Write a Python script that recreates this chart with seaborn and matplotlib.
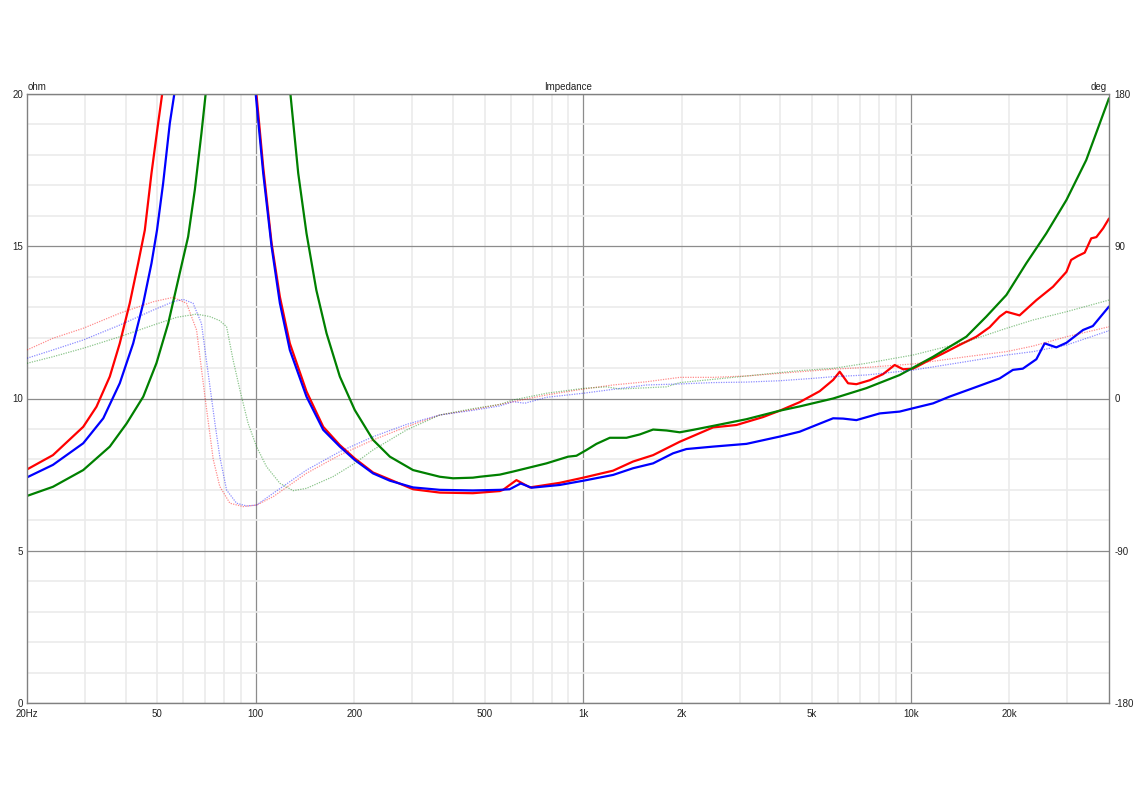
import matplotlib
matplotlib.use('Agg')
import matplotlib.pyplot as plt
import matplotlib.ticker as mticker
import seaborn as sns

# impedance magnitude (ohm) vs frequency (Hz)
red_imp_f = [20, 24, 29.7, 32.6, 35.8, 38.4, 41.2, 43.7, 45.8, 48.0, 50.3, 51.7, 70.8,
             100.4, 105.3, 111.7, 118.4, 127, 142.8, 160.6, 180.5, 200.5, 228, 256.6, 302,
             364.6, 460, 556, 569, 596, 625, 687, 847, 1000, 1233, 1419, 1634, 1971, 2490,
             2936, 3540, 3981, 4581, 5272, 5795, 6070, 6437, 6826, 7500, 8232, 8933, 9480,
             10165, 11170, 12557, 14110, 15870, 17420, 18700, 19600, 21500, 24200, 27200,
             29900, 30900, 32400, 34000, 35600, 36900, 38700, 40330]
red_imp_z = [7.67, 8.14, 9.07, 9.73, 10.72, 11.81, 13.13, 14.44, 15.53, 17.4, 19.04, 19.97, 60,
             20.0, 17.6, 15.1, 13.34, 11.81, 10.23, 9.07, 8.47, 8.03, 7.57, 7.34, 7.02,
             6.91, 6.89, 6.96, 7.0, 7.16, 7.32, 7.08, 7.23, 7.40, 7.63, 7.93, 8.14, 8.58, 9.05,
             9.13, 9.39, 9.6, 9.88, 10.24, 10.61, 10.88, 10.5, 10.47, 10.6, 10.8, 11.1, 10.96,
             10.98, 11.21, 11.48, 11.76, 12.03, 12.34, 12.69, 12.85, 12.73, 13.23, 13.67,
             14.16, 14.55, 14.68, 14.79, 15.26, 15.3, 15.59, 15.91]

blue_imp_f = [20, 24, 29.7, 34.2, 38.4, 42.2, 45.3, 48.0, 49.9, 52.1, 54.6, 56.3, 74.7,
              99.9, 105.3, 111.7, 118.4, 127, 142.8, 160.6, 180.5, 200.5, 228, 256.6, 302,
              364.6, 460, 556, 596, 644, 695, 847, 1000, 1233, 1419, 1634, 1880, 2065, 2490,
              3150, 3981, 4581, 5150, 5795, 6217, 6826, 8043, 9248, 10165, 11700, 13130,
              15500, 18700, 20520, 22000, 24200, 25650, 27850, 29900, 33600, 36000, 40330]
blue_imp_z = [7.41, 7.82, 8.53, 9.35, 10.5, 11.81, 13.13, 14.44, 15.53, 17.07, 19.04, 19.97, 60,
              20.0, 17.4, 14.99, 13.13, 11.59, 10.06, 8.97, 8.42, 7.98, 7.54, 7.30, 7.08,
              7.0, 6.98, 7.0, 7.02, 7.21, 7.07, 7.16, 7.30, 7.49, 7.71, 7.87, 8.20, 8.34, 8.42,
              8.51, 8.75, 8.91, 9.13, 9.35, 9.34, 9.29, 9.51, 9.57, 9.68, 9.84, 10.06,
              10.34, 10.66, 10.94, 10.98, 11.29, 11.81, 11.68, 11.83, 12.25, 12.38, 13.02]

green_imp_f = [20, 24, 29.7, 35.8, 40.3, 45.3, 49.7, 54.0, 57.9, 62.1, 65.1, 68.2, 70.2, 91,
               127.6, 134.7, 142.8, 153, 164.4, 180.5, 200.5, 228, 256.6, 302, 364.6, 400,
               460, 483, 556, 610, 772, 899, 953, 1023, 1097, 1205, 1355, 1488, 1634, 1795,
               1971, 2164, 2490, 3150, 3981, 4581, 5795, 7320, 9248, 11700, 14790, 17020,
               19600, 22540, 25940, 29900, 34360, 40330]
green_imp_z = [6.80, 7.10, 7.65, 8.42, 9.18, 10.06, 11.16, 12.47, 13.89, 15.31, 16.85, 18.71, 19.97, 60,
               19.97, 17.4, 15.42, 13.56, 12.14, 10.72, 9.62, 8.64, 8.09, 7.65, 7.43, 7.38,
               7.40, 7.43, 7.50, 7.60, 7.87, 8.09, 8.12, 8.31, 8.51, 8.71, 8.71, 8.82, 8.98, 8.95,
               8.89, 8.97, 9.10, 9.32, 9.60, 9.74, 10.0, 10.34, 10.77, 11.37, 12.03, 12.69,
               13.40, 14.44, 15.42, 16.52, 17.83, 19.86]

# phase (deg) vs frequency (Hz)
red_ph_f = [20, 24, 29.7, 38.4, 48.6, 55.9, 61.4, 65.9, 69.9, 74.1, 77.6, 83.3, 91.5, 100.5,
            113, 142.8, 180.5, 228, 288.6, 364.6, 460, 556, 610, 772, 1000, 1233, 1560, 1971,
            2490, 3150, 3981, 5030, 5795, 7320, 10165, 14790, 19600, 23640, 29900, 40330]
red_ph_d = [28.7, 35.6, 41.5, 50.4, 57.2, 59.8, 56.3, 40.5, 1.1, -36, -52, -61.9, -63.9, -63.0,
            -58.0, -44.2, -33.4, -24.5, -16.7, -9.75, -6.5, -3.5, -1.9, 2.1, 5.6, 8.0, 9.9, 12.5,
            12.5, 13.3, 14.9, 16.4, 17.3, 18.4, 20.4, 24.7, 27.7, 31.0, 36.5, 42.4]

blue_ph_f = [20, 24, 29.7, 38.4, 48.6, 55.9, 60.0, 64.3, 68.2, 71.5, 75.0, 77.6, 81.4, 87.3,
             93.6, 100.5, 113, 142.8, 180.5, 228, 288.6, 364.6, 460, 556, 610, 663, 772, 1000,
             1233, 1560, 1971, 2490, 3150, 3981, 5030, 5795, 7320, 10165, 14790, 19600, 23640,
             29900, 40330]
blue_ph_d = [23.8, 28.7, 34.6, 43.4, 52.3, 57.2, 58.6, 56.3, 44.4, 14.9, -14.7, -34.4, -54.1, -61.9,
             -63.5, -63.0, -56.0, -42.3, -31.4, -22.6, -15.3, -9.75, -7.0, -4.4, -1.9, -2.8, 0.7, 3.1,
             5.4, 8.0, 8.6, 9.4, 9.7, 10.5, 11.9, 12.9, 13.9, 16.8, 21.8, 25.7, 27.7,
             31.6, 40.1]

green_ph_f = [20, 24, 29.7, 38.4, 48.6, 57.3, 65.9, 72.4, 77.6, 81.4, 85.2, 89.4, 94.7, 100.5,
              107.8, 118.4, 130, 142.8, 172, 200.5, 228, 288.6, 364.6, 460, 556, 610, 772, 1000,
              1177, 1291, 1795, 1971, 2490, 3150, 3981, 4581, 5795, 7320, 10165, 14790, 19600,
              23640, 29900, 40330]
green_ph_d = [20.8, 24.7, 29.7, 36.5, 43.4, 48.0, 49.9, 48.4, 46.0, 42.4, 22.8, 5.0, -14.7, -28.5,
              -40.3, -50.1, -54.5, -53.1, -46.2, -38.3, -30.4, -18.6, -9.75, -6.0, -3.5, -0.9, 3.1, 6.0,
              6.9, 5.6, 6.9, 9.4, 11.3, 13.3, 15.3, 16.5, 17.8, 20.8, 25.7, 33.6, 41.5,
              46.4, 51.3, 58.2]

sns.set_theme(style='white')
plt.rcParams['font.family'] = ['Liberation Sans', 'DejaVu Sans']
plt.rcParams['axes.unicode_minus'] = False

fig = plt.figure(figsize=(11.36, 8), dpi=100)
ax = fig.add_axes([27 / 1136, 1 - 703 / 800, (1109 - 27) / 1136, (703 - 94) / 800])
ax.set_xscale('log')
ax.set_xlim(20, 40330)
ax.set_ylim(0, 20)

txt = '#222222'
major_x = [100, 1000, 10000]
minor_x = [m * d for d in (10, 100, 1000, 10000) for m in range(2, 10) if 20 <= m * d <= 30000]
minor_lbl = {20: '20Hz', 50: '50', 200: '200', 500: '500', 2000: '2k', 5000: '5k', 20000: '20k'}
ax.xaxis.set_major_locator(mticker.FixedLocator(major_x))
ax.xaxis.set_minor_locator(mticker.FixedLocator(minor_x))
ax.xaxis.set_major_formatter(mticker.FixedFormatter(['100', '1k', '10k']))
ax.xaxis.set_minor_formatter(mticker.FuncFormatter(lambda v, p: minor_lbl.get(int(round(v)), '')))
ax.yaxis.set_major_locator(mticker.MultipleLocator(5))
ax.yaxis.set_minor_locator(mticker.MultipleLocator(1))
ax.grid(which='minor', color='#ebebeb', lw=1.2)
ax.grid(which='major', color='#8c8c8c', lw=0.9)
ax.set_axisbelow(True)
ax.tick_params(which='both', length=0, labelsize=7, colors=txt, pad=3)
ax.tick_params(axis='x', which='both', pad=4)
for s in ax.spines.values():
    s.set_color('#808080')
    s.set_linewidth(1)

for f, z, c in [(red_imp_f, red_imp_z, '#ff0000'),
                (blue_imp_f, blue_imp_z, '#0000ff'),
                (green_imp_f, green_imp_z, '#008000')]:
    sns.lineplot(x=f, y=z, ax=ax, color=c, lw=1.6, sort=False, estimator=None)

ax2 = ax.twinx()
ax2.set_ylim(-180, 180)
ax2.set_yticks([-180, -90, 0, 90, 180])
ax2.tick_params(length=0, labelsize=7, colors=txt, pad=4)
for s in ax2.spines.values():
    s.set_visible(False)
for f, d, c in [(red_ph_f, red_ph_d, '#ff0000'),
                (blue_ph_f, blue_ph_d, '#0000ff'),
                (green_ph_f, green_ph_d, '#008000')]:
    sns.lineplot(x=f, y=d, ax=ax2, color=c, lw=0.9, alpha=0.45, ls=(0, (1, 1)),
                 sort=False, estimator=None)
ax2.set_xlim(20, 40330)

ax.text(0.001, 1.003, 'ohm', transform=ax.transAxes, fontsize=7, color=txt, ha='left', va='bottom')
ax.text(0.5, 1.003, 'Impedance', transform=ax.transAxes, fontsize=7, color=txt, ha='center', va='bottom')
ax.text(0.998, 1.003, 'deg', transform=ax.transAxes, fontsize=7, color=txt, ha='right', va='bottom')
ax.set_xlabel('')
ax.set_ylabel('')
ax2.set_ylabel('')

fig.savefig('out.png', dpi=100)
